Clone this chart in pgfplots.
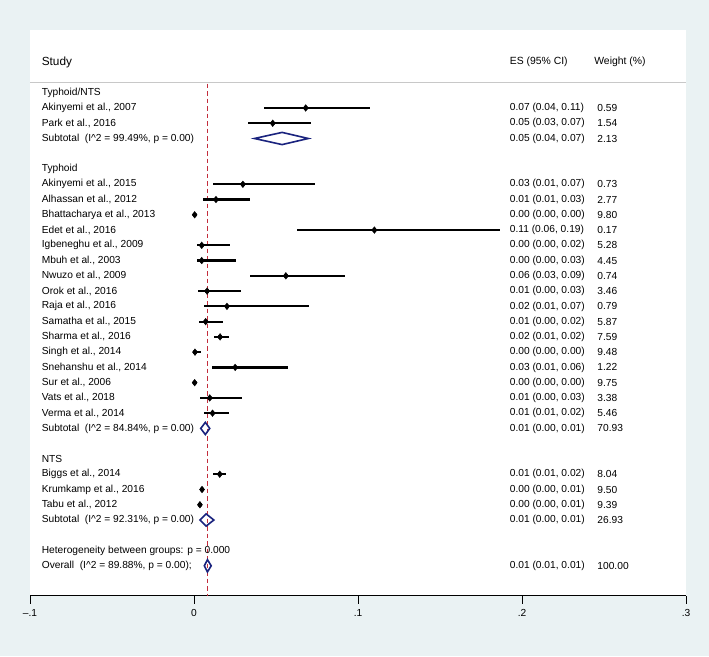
\documentclass[border=0pt]{standalone}
\usepackage{pgfplots}
\pgfplotsset{compat=1.18}
\usepackage{pgfplotstable}
\usepackage{fontspec}
\setmainfont{Liberation Sans}
\definecolor{bg}{RGB}{234,242,243}
\definecolor{stnavy}{RGB}{26,35,126}
\definecolor{stred}{RGB}{195,45,60}
\definecolor{sepgrey}{RGB}{200,200,200}

\pgfplotstableread{
row es lo hi
1 0.0681 0.0424 0.1075
2 0.0480 0.0328 0.0711
6 0.0298 0.0118 0.0739
7 0.0134 0.0057 0.0339
8 0.0004 0.0001 0.0008
9 0.1100 0.0628 0.1864
10 0.0047 0.0019 0.0218
11 0.0047 0.0019 0.0256
12 0.0560 0.0342 0.0918
13 0.0080 0.0025 0.0287
14 0.0201 0.0058 0.0700
15 0.0071 0.0030 0.0176
16 0.0159 0.0124 0.0215
17 0.0006 0.0002 0.0045
18 0.0251 0.0112 0.0571
19 0.0004 0.0001 0.0008
20 0.0096 0.0036 0.0292
21 0.0113 0.0063 0.0212
25 0.0157 0.0118 0.0193
26 0.0049 0.0036 0.0062
27 0.0036 0.0024 0.0050
}\studies

\newcommand{\bodyfont}{\fontsize{10.2}{12}\selectfont}
\newcommand{\rowtext}[4]{%
  \node[anchor=west,inner sep=0pt,font=\bodyfont] at (axis cs:-0.0929,-#1) {#2};
  \node[anchor=west,inner sep=0pt,font=\bodyfont] at (axis cs:0.1925,-#1) {#3};
  \node[anchor=west,inner sep=0pt,font=\bodyfont] at (axis cs:0.2459,-#1) {#4};}
\newcommand{\hd}[2]{\node[anchor=west,inner sep=0pt,font=\bodyfont] at (axis cs:-0.0929,-#1) {#2};}
\newcommand{\IIsq}{I\textasciicircum 2}

\begin{document}
\begin{tikzpicture}
\fill[bg] (-30pt,-60.3pt) rectangle (679pt,595.7pt);
\fill[white] (0pt,0pt) rectangle (656pt,565.7pt);
\begin{axis}[
  at={(0pt,0pt)}, anchor=south west,
  scale only axis, width=656pt, height=565.7pt,
  xmin=-0.1, xmax=0.3, ymin=-32.96, ymax=4.11,
  axis x line*=bottom, axis y line=none,
  xtick={-0.1,0,0.1,0.2,0.3},
  xticklabels={\textendash.1,0,.1,.2,.3},
  tick align=outside, major tick length=8pt,
  x axis line style={black, line width=1pt},
  xtick style={black, line width=0.9pt},
  xticklabel style={font=\fontsize{10.2}{12}\selectfont, yshift=-2pt},
  clip=false,
]
% header separator
\addplot[sepgrey, line width=1.6pt, forget plot] coordinates {(-0.1,0.68) (0.3,0.68)};
% reference line at the overall estimate
\addplot[stred, line width=1.1pt, dash pattern=on 4.5pt off 3pt, forget plot] coordinates {(0.0081,0.6) (0.0081,-32.96)};
% confidence intervals
\addplot[only marks, mark=none, forget plot,
  error bars/.cd, x dir=both, x explicit, error mark=none,
  error bar style={draw=black, line width=2.2pt, line cap=butt}]
  table[x=es, y expr=-\thisrow{row},
        x error plus expr=\thisrow{hi}-\thisrow{es},
        x error minus expr=\thisrow{es}-\thisrow{lo}] {\studies};
% point estimates
\addplot[only marks, mark=diamond*, mark size=3.4pt,
  mark options={fill=black, draw=black, line width=0.3pt}, forget plot]
  table[x=es, y expr=-\thisrow{row}] {\studies};
% pooled diamonds
\addplot[stnavy, line width=1.6pt, line join=miter] coordinates {(0.0369,-3) (0.0537,-2.6) (0.0697,-3) (0.0537,-3.4)} -- cycle;
\addplot[stnavy, line width=1.6pt, line join=miter] coordinates {(0.0041,-22) (0.0069,-21.6) (0.0096,-22) (0.0069,-22.4)} -- cycle;
\addplot[stnavy, line width=1.6pt, line join=miter] coordinates {(0.0036,-28) (0.0074,-27.6) (0.0121,-28) (0.0074,-28.4)} -- cycle;
\addplot[stnavy, line width=1.6pt, line join=miter] coordinates {(0.0063,-31) (0.0082,-30.6) (0.0105,-31) (0.0082,-31.4)} -- cycle;

% header
\node[anchor=west,inner sep=0pt,font=\fontsize{11.8}{14}\selectfont] at (axis cs:-0.0929,2) {Study};
\node[anchor=west,inner sep=0pt,font=\fontsize{10.4}{12}\selectfont] at (axis cs:0.1925,2) {ES (95\% CI)};
\node[anchor=west,inner sep=0pt,font=\fontsize{10.4}{12}\selectfont] at (axis cs:0.2440,2) {Weight (\%)};

\hd{0}{Typhoid/NTS}
\rowtext{1}{Akinyemi et al., 2007}{0.07 (0.04, 0.11)}{0.59}
\rowtext{2}{Park et al., 2016}{0.05 (0.03, 0.07)}{1.54}
\rowtext{3}{Subtotal\ \ (\IIsq\ = 99.49\%, p = 0.00)}{0.05 (0.04, 0.07)}{2.13}
\hd{5}{Typhoid}
\rowtext{6}{Akinyemi et al., 2015}{0.03 (0.01, 0.07)}{0.73}
\rowtext{7}{Alhassan et al., 2012}{0.01 (0.01, 0.03)}{2.77}
\rowtext{8}{Bhattacharya et al., 2013}{0.00 (0.00, 0.00)}{9.80}
\rowtext{9}{Edet et al., 2016}{0.11 (0.06, 0.19)}{0.17}
\rowtext{10}{Igbeneghu et al., 2009}{0.00 (0.00, 0.02)}{5.28}
\rowtext{11}{Mbuh et al., 2003}{0.00 (0.00, 0.03)}{4.45}
\rowtext{12}{Nwuzo et al., 2009}{0.06 (0.03, 0.09)}{0.74}
\rowtext{13}{Orok et al., 2016}{0.01 (0.00, 0.03)}{3.46}
\rowtext{14}{Raja et al., 2016}{0.02 (0.01, 0.07)}{0.79}
\rowtext{15}{Samatha et al., 2015}{0.01 (0.00, 0.02)}{5.87}
\rowtext{16}{Sharma et al., 2016}{0.02 (0.01, 0.02)}{7.59}
\rowtext{17}{Singh et al., 2014}{0.00 (0.00, 0.00)}{9.48}
\rowtext{18}{Snehanshu et al., 2014}{0.03 (0.01, 0.06)}{1.22}
\rowtext{19}{Sur et al., 2006}{0.00 (0.00, 0.00)}{9.75}
\rowtext{20}{Vats et al., 2018}{0.01 (0.00, 0.03)}{3.38}
\rowtext{21}{Verma et al., 2014}{0.01 (0.01, 0.02)}{5.46}
\rowtext{22}{Subtotal\ \ (\IIsq\ = 84.84\%, p = 0.00)}{0.01 (0.00, 0.01)}{70.93}
\hd{24}{NTS}
\rowtext{25}{Biggs et al., 2014}{0.01 (0.01, 0.02)}{8.04}
\rowtext{26}{Krumkamp et al., 2016}{0.00 (0.00, 0.01)}{9.50}
\rowtext{27}{Tabu et al., 2012}{0.00 (0.00, 0.01)}{9.39}
\rowtext{28}{Subtotal\ \ (\IIsq\ = 92.31\%, p = 0.00)}{0.01 (0.00, 0.01)}{26.93}
\hd{30}{Heterogeneity between groups: p = 0.000}
\rowtext{31}{Overall\ \ (\IIsq\ = 89.88\%, p = 0.00);}{0.01 (0.01, 0.01)}{100.00}
\end{axis}
\end{tikzpicture}
\end{document}
